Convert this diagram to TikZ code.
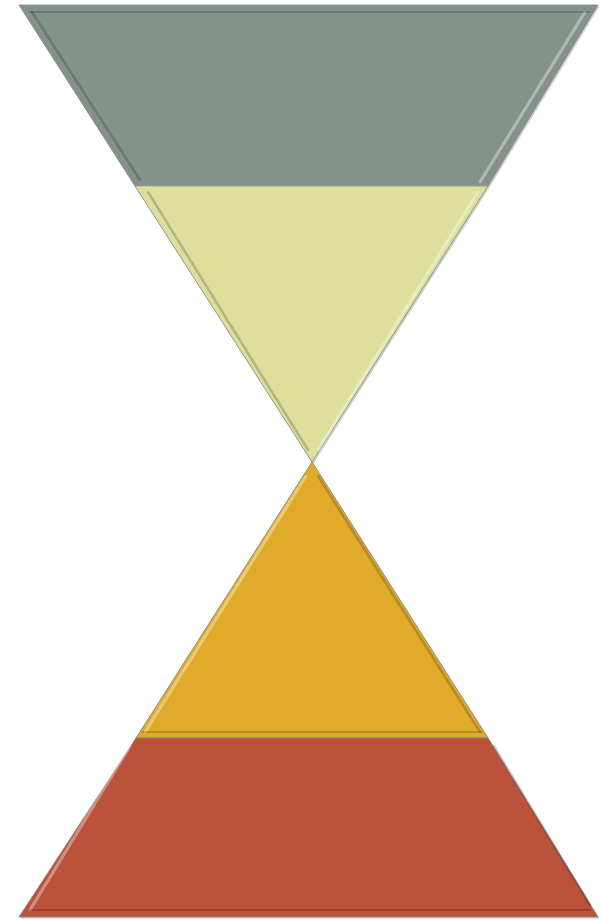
\documentclass[tikz,border=0pt]{standalone}
\usetikzlibrary{shadows}
\definecolor{sagegray}{HTML}{84938A}
\definecolor{paleolive}{HTML}{DEDF9D}
\definecolor{goldband}{HTML}{E0AB2B}
\definecolor{rustband}{HTML}{BB523A}
\tikzset{
  band/.style={draw=black!45, line width=0.6pt, line join=miter,
               drop shadow={shadow xshift=1.5pt, shadow yshift=-1.5pt, opacity=0.35}},
  hilite/.style={line width=3pt, white, opacity=0.35, line cap=round},
  lowlite/.style={line width=2.5pt, black, opacity=0.18, line cap=round},
}
\begin{document}
\begin{tikzpicture}[x=1pt, y=-1pt]
  \useasboundingbox (0,0) rectangle (601,920);
  % corner points of the hourglass
  \coordinate (tl) at (19,5);
  \coordinate (tr) at (598,5);
  \coordinate (ml) at (135,186);
  \coordinate (mr) at (488,186);
  \coordinate (apex) at (312,462);
  \coordinate (ll) at (136,738);
  \coordinate (lr) at (488,738);
  \coordinate (bl) at (19,917);
  \coordinate (br) at (598,917);
  % upper half
  \fill[band, fill=sagegray] (tl) -- (tr) -- (mr) -- (ml) -- cycle;
  \fill[band, fill=paleolive] (ml) -- (mr) -- (apex) -- cycle;
  % lower half
  \fill[band, fill=goldband] (apex) -- (lr) -- (ll) -- cycle;
  \fill[band, fill=rustband] (ll) -- (lr) -- (br) -- (bl) -- cycle;
  % bevel strips
  \draw[hilite] (585,12) -- (480,182);
  \draw[hilite] (478,192) -- (318,450);
  \draw[hilite] (306,476) -- (145,732);
  \draw[hilite] (130,746) -- (30,910);
  \draw[lowlite] (32,12) -- (140,180);
  \draw[lowlite] (30,12) -- (590,12);
  \draw[lowlite] (148,192) -- (308,450);
  \draw[lowlite] (142,732) -- (482,732);
  \draw[lowlite] (30,910) -- (590,910);
  \draw[lowlite] (318,476) -- (480,732);
  \draw[lowlite] (494,746) -- (590,905);
\end{tikzpicture}
\end{document}
